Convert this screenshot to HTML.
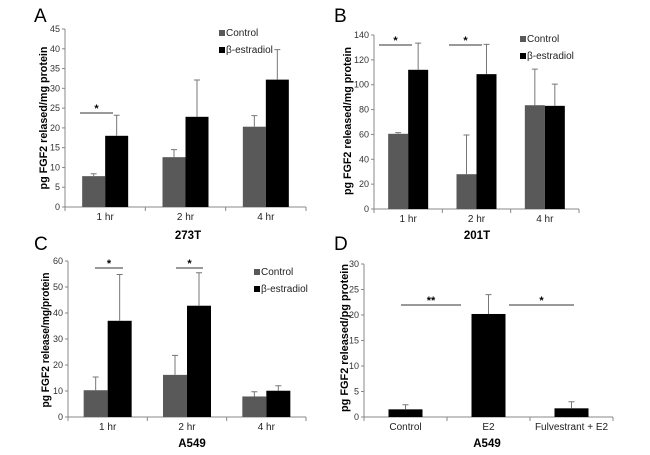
<!DOCTYPE html>
<html><head><meta charset="utf-8">
<style>
body{margin:0;background:#fff;}
svg{display:block;font-family:"Liberation Sans",Arial,sans-serif;}
</style></head>
<body>
<svg id="fig" width="650" height="455" viewBox="0 0 650 455"></svg>
<script>
// ---- data ----
const catsTime = ["1 hr", "2 hr", "4 hr"];
const catsD = ["Control", "E2", "Fulvestrant + E2"];
const aControl = [7.8, 12.6, 20.3];
const aControlErr = [0.6, 1.9, 2.8];
const aBeta = [18, 22.8, 32.2];
const aBetaErr = [5.2, 9.3, 7.6];
const bControl = [60.5, 28, 83.5];
const bControlErr = [1, 31.5, 29];
const bBeta = [112, 108.5, 83];
const bBetaErr = [21.5, 24, 17.5];
const cControl = [10.3, 16.2, 7.9];
const cControlErr = [5.1, 7.5, 1.8];
const cBeta = [37, 42.8, 10.1];
const cBetaErr = [17.8, 12.7, 1.9];
const dValues = [1.5, 20.2, 1.7];
const dErr = [0.9, 3.8, 1.3];
const aTicks = [0,5,10,15,20,25,30,35,40,45];
const bTicks = [0,20,40,60,80,100,120,140];
const cTicks = [0,10,20,30,40,50,60];
const dTicks = [0,5,10,15,20,25,30];
const legendLabels = ["Control", "β-estradiol"];

const NS = "http://www.w3.org/2000/svg";
const svg = document.getElementById("fig");
function mk(tag, attrs, parent, text){
  const e = document.createElementNS(NS, tag);
  for (const k in attrs) e.setAttribute(k, attrs[k]);
  if (text !== undefined) e.textContent = text;
  (parent || svg).appendChild(e);
  return e;
}

function panel(cfg){
  const g = mk("g", {});
  
  
  const y = v => cfg.y0 - (v - 0) / cfg.max * (cfg.y0 - cfg.yTop);
  const n = cfg.cats.length;
  const cw = (cfg.xR - cfg.xL) / n;
  const cx = i => cfg.xL + cw * (i + 0.5);
  const ya = mk("line", {x1:cfg.xL, y1:cfg.yTop, x2:cfg.xL, y2:cfg.y0, stroke:"#888", "stroke-width":1}, g);
  
  
  const xa = mk("line", {x1:cfg.xL, y1:cfg.y0, x2:cfg.xR, y2:cfg.y0, stroke:"#888", "stroke-width":1}, g);
  
  
  cfg.ticks.forEach(t => {
    mk("line", {x1:cfg.xL-3, y1:y(t), x2:cfg.xL, y2:y(t), stroke:"#888"}, g);
    const tl = mk("text", {x:cfg.xL-5, y:y(t)+3, "font-size":9, "text-anchor":"end", fill:"#333"}, g, String(t));
    
    
  });
  for (let i = 0; i <= n; i++) {
    const xx = cfg.xL + cw * i;
    mk("line", {x1:xx, y1:cfg.y0, x2:xx, y2:cfg.y0+4, stroke:"#888"}, g);
  }
  cfg.cats.forEach((c, i) => {
    const tl = mk("text", {x:cx(i), y:cfg.y0+13, "font-size":10, "text-anchor":"middle", fill:"#222"}, g, c);
    
    
  });
  cfg.series.forEach((s, si) => {
    s.values.forEach((v, i) => {
      const x = s.offset !== undefined ? cx(i) + s.offset * cfg.bw : cx(i) - cfg.bw/2;
      const r = mk("rect", {x:x, y:y(v), width:cfg.bw, height:cfg.y0 - y(v), fill:s.color}, g);
      
      
      const ex = x + cfg.bw/2;
      const e = mk("path", {d:`M${ex},${y(v)}V${y(v + s.err[i])}M${ex-3},${y(v + s.err[i])}H${ex+3}`, stroke:"#777", "stroke-width":1, fill:"none"}, g);
      
      
    });
  });
  cfg.sig.forEach(s => {
    const l = mk("line", {x1:s.x1, y1:s.y, x2:s.x2, y2:s.y, stroke:"#333", "stroke-width":1}, g);
    
    
    const t = mk("text", {x:(s.x1+s.x2)/2, y:s.y-1, "font-size":11, "text-anchor":"middle", "font-weight":"bold"}, g, s.t);
    
    
  });
  const yt = mk("text", {x:0, y:0, transform:`translate(${cfg.ytx},${cfg.ytc}) rotate(-90)`, "font-size":11, "font-weight":"bold", "text-anchor":"middle", textLength:cfg.ytl, lengthAdjust:"spacingAndGlyphs"}, g, cfg.ytitle);
  
  
  const pl = mk("text", {x:cfg.lx, y:cfg.ly, "font-size":19}, g, cfg.label);
  
  
  if (cfg.legend) {
    const colors = ["#595959", "#000"];
    legendLabels.forEach((lab, i) => {
      const lg = mk("g", {}, g);
      
      
      const ly = cfg.legend.y + i * cfg.legend.dy;
      mk("rect", {x:cfg.legend.x, y:ly-6, width:6, height:6, fill:colors[i]}, lg);
      mk("text", {x:cfg.legend.x+7, y:ly, "font-size":10, fill:"#222"}, lg, lab);
    });
  }
  if (cfg.xtitle) {
    const xt = mk("text", {x:cfg.xtitle.x, y:cfg.xtitle.y, "font-size":11.5, "font-weight":"bold", "text-anchor":"middle"}, g, cfg.xtitle.t);
    
    
  }
}

panel({name:"panel-a", label:"A", lx:34, ly:22, xL:65, xR:306, y0:207, yTop:29, max:45, ticks:aTicks, cats:catsTime, bw:23,
  series:[{key:"control", values:aControl, err:aControlErr, color:"#595959", offset:-1},
          {key:"estradiol", values:aBeta, err:aBetaErr, color:"#000", offset:0}],
  sig:[{x1:80, x2:113, y:113, t:"*"}], ytx:47, ytc:118, ytl:143, ytitle:"pg FGF2 relased/mg protein",
  legend:{x:219, y:36, dy:17}, xtitle:{x:188, y:239, t:"273T"}});

panel({name:"panel-b", label:"B", lx:334, ly:22, xL:374, xR:579, y0:209, yTop:35, max:140, ticks:bTicks, cats:catsTime, bw:20,
  series:[{key:"control", values:bControl, err:bControlErr, color:"#595959", offset:-1},
          {key:"estradiol", values:bBeta, err:bBetaErr, color:"#000", offset:0}],
  sig:[{x1:379, x2:412, y:45, t:"*"},{x1:449, x2:482, y:45, t:"*"}], ytx:351, ytc:121, ytl:148, ytitle:"pg FGF2 released/mg protein",
  legend:{x:520, y:42, dy:17}, xtitle:{x:477, y:239, t:"201T"}});

panel({name:"panel-c", label:"C", lx:34, ly:250, xL:68, xR:306, y0:417, yTop:261, max:60, ticks:cTicks, cats:catsTime, bw:24,
  series:[{key:"control", values:cControl, err:cControlErr, color:"#595959", offset:-1},
          {key:"estradiol", values:cBeta, err:cBetaErr, color:"#000", offset:0}],
  sig:[{x1:95, x2:123, y:268, t:"*"},{x1:176, x2:203, y:268, t:"*"}], ytx:49, ytc:340, ytl:135, ytitle:"pg FGF2 release/mg/protein",
  legend:{x:254, y:275, dy:17}, xtitle:{x:192, y:447, t:"A549"}});

panel({name:"panel-d", label:"D", lx:334, ly:250, xL:364, xR:613, y0:417, yTop:264, max:30, ticks:dTicks, cats:catsD, bw:34,
  series:[{key:"treatment", values:dValues, err:dErr, color:"#000"}],
  sig:[{x1:401, x2:461, y:305, t:"**"},{x1:509, x2:574, y:305, t:"*"}], ytx:348, ytc:338, ytl:148, ytitle:"pg FGF2 released/pg protein",
  legend:null, xtitle:{x:487, y:447, t:"A549"}});
</script>
</body></html>
